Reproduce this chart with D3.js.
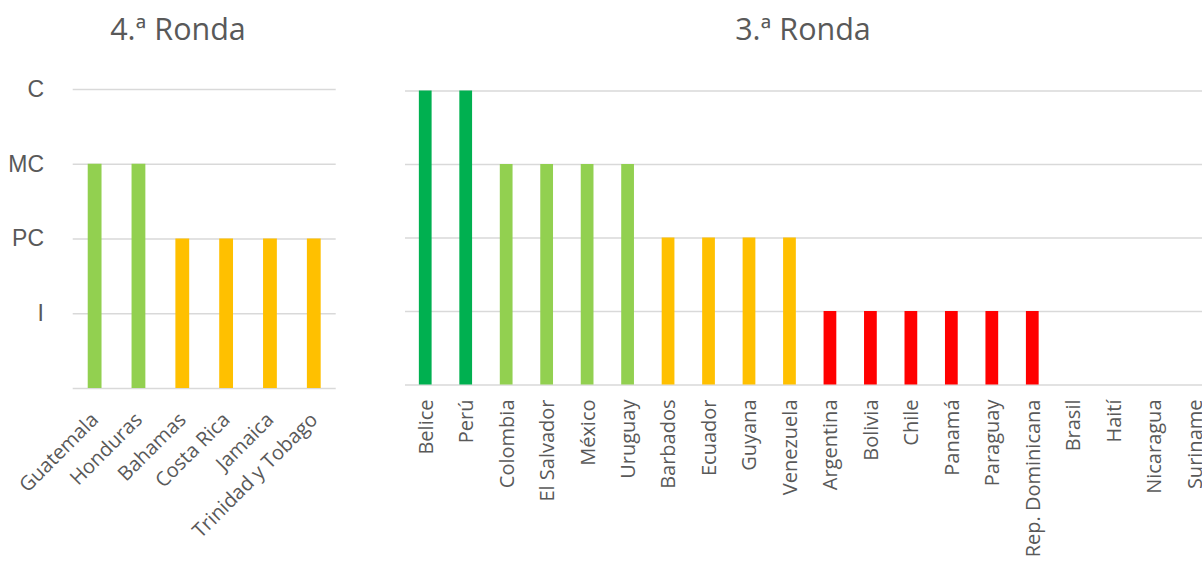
<!DOCTYPE html>
<html>
<head>
<meta charset="utf-8">
<script src="https://cdn.jsdelivr.net/npm/d3@7"></script>
<style>
  body { margin: 0; background: #fff; }
  .title { font-family: 'Open Sans', sans-serif; font-size: 30.5px; fill: #595959; }
  .xlabel { font-family: 'Open Sans', sans-serif; font-size: 20px; fill: #595959; }
  .y_axis text { font-family: 'Liberation Sans', Arial, sans-serif; font-size: 23px; font-weight: normal; fill: #595959; }
  .grid line { stroke: #d9d9d9; stroke-width: 1.5; }
  .grid path { display: none; }
</style>
</head>
<body>
<svg id="chart" width="1202" height="563"></svg>
<script>
// Data
const levelLabels = ['', 'I', 'PC', 'MC', 'C'];
const levelColors = ['none', '#FF0000', '#FFC000', '#92D050', '#00B050'];

const round4Countries = ['Guatemala', 'Honduras', 'Bahamas', 'Costa Rica', 'Jamaica', 'Trinidad y Tobago'];
const round4Values = [3, 3, 2, 2, 2, 2];

const round3Countries = [
  'Belice', 'Perú', 'Colombia', 'El Salvador', 'México', 'Uruguay',
  'Barbados', 'Ecuador', 'Guyana', 'Venezuela', 'Argentina', 'Bolivia',
  'Chile', 'Panamá', 'Paraguay', 'Rep. Dominicana', 'Brasil', 'Haití',
  'Nicaragua', 'Suriname'
];
const round3Values = [4, 4, 3, 3, 3, 3, 2, 2, 2, 2, 1, 1, 1, 1, 1, 1, 0, 0, 0, 0];

const svg = d3.select('#chart');

// Draw one panel
function drawPanel(opts) {
  const { countries, values, x0, x1, yTop, yBottom, title, titleX, showYAxis, labelAngle } = opts;

  const xScale = d3.scaleBand()
    .domain(countries)
    .range([x0, x1])
    .paddingInner(0.685)
    .paddingOuter(0.3425);

  const yScale = d3.scaleLinear().domain([0, 4]).range([yBottom, yTop]);

  const g = svg.append('g');

  // Grid
  g.append('g')
    .attr('class', 'grid')
    .attr('transform', 'translate(' + x0 + ',0)')
    .call(d3.axisLeft(yScale).tickValues([0, 1, 2, 3, 4]).tickSize(-(x1 - x0)).tickFormat(''));

  if (showYAxis) {
    const yAxis = g.append('g')
      .attr('class', 'y_axis')
      .attr('transform', 'translate(44,0)')
      .call(d3.axisLeft(yScale).tickValues([1, 2, 3, 4]).tickSize(0).tickPadding(0)
        .tickFormat(d => levelLabels[d]));
    yAxis.attr('font-family', null).attr('font-size', null);
    yAxis.select('.domain').remove();
  }

  // Bars
  g.selectAll('rect.bar')
    .data(countries)
    .enter()
    .append('rect')
    .attr('class', 'bar')
    .attr('x', d => xScale(d))
    .attr('width', xScale.bandwidth())
    .attr('y', (d, i) => yScale(values[i]))
    .attr('height', (d, i) => yScale(0) - yScale(values[i]))
    .attr('fill', (d, i) => levelColors[values[i]]);

  // Category labels
  g.selectAll('text.xlabel')
    .data(countries)
    .enter()
    .append('text')
    .attr('class', 'xlabel')
    .attr('text-anchor', 'end')
    .attr('transform', d => {
      const cx = xScale(d) + xScale.bandwidth() / 2;
      if (labelAngle === -45) return 'translate(' + (cx + 5) + ',' + (yBottom + 33) + ') rotate(-45)';
      return 'translate(' + cx + ',' + (yBottom + 15) + ') rotate(-90)';
    })
    .attr('dy', labelAngle === -45 ? 0 : '0.37em')
    .text(d => d);

  // Title
  g.append('text')
    .attr('class', 'title')
    .attr('text-anchor', 'middle')
    .attr('x', titleX)
    .attr('y', 39.5)
    .text(title);
}

drawPanel({
  countries: round4Countries,
  values: round4Values,
  x0: 72.7, x1: 335.7,
  yTop: 89, yBottom: 388,
  title: '4.ª Ronda', titleX: 178,
  showYAxis: true,
  labelAngle: -45
});

drawPanel({
  countries: round3Countries,
  values: round3Values,
  x0: 405, x1: 1214.4,
  yTop: 90.5, yBottom: 384.5,
  title: '3.ª Ronda', titleX: 803,
  showYAxis: false,
  labelAngle: -90
});
</script>
</body>
</html>
